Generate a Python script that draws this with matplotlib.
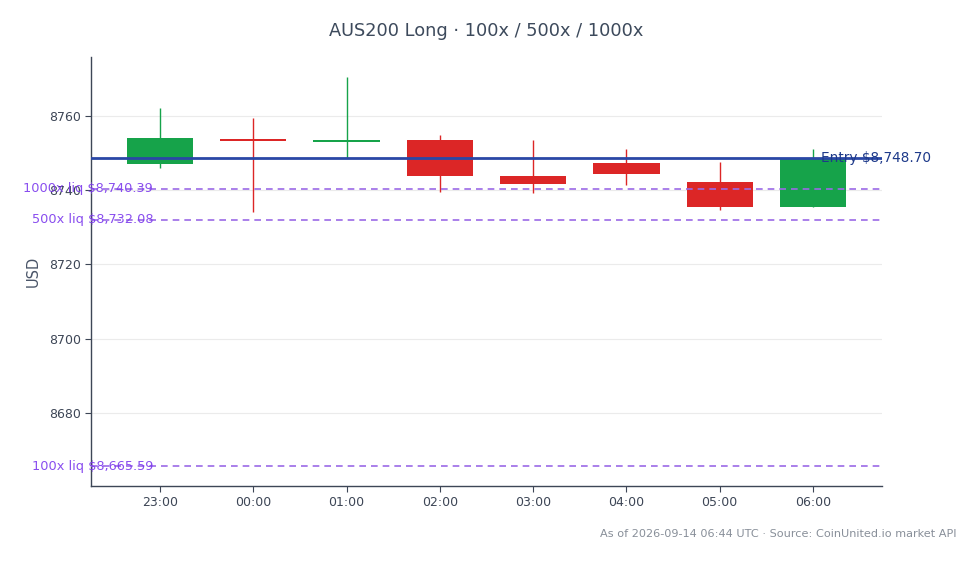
import matplotlib
matplotlib.use("Agg")
import matplotlib.pyplot as plt
from matplotlib.patches import Rectangle

times = ["23:00", "00:00", "01:00", "02:00", "03:00", "04:00", "05:00", "06:00"]
opens = [8747.0, 8753.5, 8752.9, 8753.5, 8743.9, 8747.2, 8742.3, 8735.4]
highs = [8762.2, 8759.5, 8770.4, 8755.0, 8753.6, 8751.2, 8747.5, 8751.2]
lows = [8745.9, 8734.0, 8748.8, 8739.4, 8739.2, 8741.5, 8734.6, 8735.4]
closes = [8754.2, 8753.2, 8753.2, 8743.7, 8741.8, 8744.3, 8735.4, 8748.7]

entry_price = 8748.70
liq_labels = ["1000x liq", "500x liq", "100x liq"]
liq_prices = [8740.39, 8732.08, 8665.59]

title = "AUS200 Long · 100x / 500x / 1000x"
footer = "As of 2026-09-14 06:44 UTC · Source: CoinUnited.io market API"

GREEN = "#16a34a"
RED = "#dc2626"
PURPLE = "#9b6ae6"
PURPLE_TXT = "#7c3aed"
BLUE = "#2a47a6"
AX = "#3d4656"

fig = plt.figure(figsize=(9.8, 5.64), dpi=100)
ax = fig.add_axes([0.0929, 0.1383, 0.9 - 0.0929, 0.899 - 0.1383])

ax.set_xlim(-0.74, 7.74)
ax.set_ylim(8660.3, 8775.9)

ax.set_yticks([8680, 8700, 8720, 8740, 8760])
ax.yaxis.grid(True, color="#ebebeb", linewidth=0.8)
ax.set_axisbelow(True)

bw = 0.71
for i, (o, h, l, c) in enumerate(zip(opens, highs, lows, closes)):
    col = GREEN if c >= o else RED
    ax.vlines(i, l, h, color=col, linewidth=1.0, zorder=2)
    bottom = min(o, c)
    height = max(abs(c - o), 0.6)
    ax.add_patch(Rectangle((i - bw / 2, bottom), bw, height, facecolor=col,
                           edgecolor="none", zorder=3))

ax.axhline(entry_price, color=BLUE, linewidth=2.0, zorder=4)
ax.text(7.09, entry_price, f"Entry ${entry_price:,.2f}", color="#1e3a8a",
        fontsize=9.85, va="center", ha="left", zorder=5)

for lab, p in zip(liq_labels, liq_prices):
    ax.axhline(p, color=PURPLE, linewidth=1.2, linestyle=(0, (4, 3)), zorder=4)
    ax.text(-0.075, p, f"{lab} ${p:,.2f}", color=PURPLE_TXT, fontsize=9.3,
            va="center", ha="right", zorder=5, alpha=0.9, clip_on=False)

ax.set_xticks(range(len(times)))
ax.set_xticklabels(times)

for s in ["top", "right"]:
    ax.spines[s].set_visible(False)
for s in ["left", "bottom"]:
    ax.spines[s].set_color(AX)
    ax.spines[s].set_linewidth(1.0)
ax.tick_params(colors=AX, labelsize=9, length=4, width=0.8)
ax.tick_params(axis="y", labelcolor="#3d4656")

ax.set_ylabel("USD", fontsize=10.5, color="#4a5568", labelpad=6)

fig.text(0.496, 0.945, title, ha="center", va="center", fontsize=12.75, color="#3d4a5c")
fig.text(0.976, 0.054, footer, ha="right", va="center", fontsize=8.15, color="#888f99")

fig.savefig("out.png", dpi=100)
